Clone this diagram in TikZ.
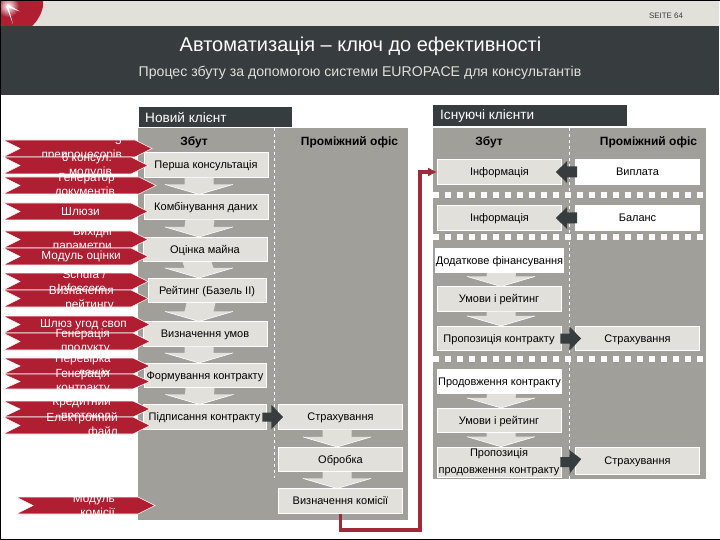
\documentclass[tikz,border=0pt]{standalone}
\usepackage{fontspec}
\setmainfont{Liberation Sans}
\usetikzlibrary{arrows.meta}
\definecolor{bandgrey}{HTML}{E2E0DB}
\definecolor{bandnight}{HTML}{373C3E}
\definecolor{panelgrey}{HTML}{A09F9A}
\definecolor{tagred}{HTML}{B01E32}
\definecolor{linkred}{HTML}{9E2A3A}
\tikzset{
	flowbox/.style={draw=white,line width=.6pt,fill=bandgrey,inner sep=0pt,minimum width=124pt,minimum height=24.5pt,text height=9pt,text depth=1.5pt,align=center,font=\fontsize{11}{15}\selectfont},
	whitebox/.style={flowbox,fill=white},
	colhead/.style={inner sep=0pt,font=\fontsize{12}{14}\selectfont\bfseries},
	tagtext/.style={inner sep=0pt,anchor=east,align=right,text=white,font=\fontsize{11.8}{14}\selectfont},
	bandhead/.style={inner sep=0pt,anchor=west,text=white,font=\fontsize{13.6}{15}\selectfont},
	dotline/.style={white,line width=5.5pt,dash pattern=on 6pt off 6pt},
	darkarrow/.style={fill=bandnight},
}
% red tag: name, left, top, bottom, tip, right edge of text, text
\newcommand{\redtag}[7]{
	\fill [tagred,draw=white,line width=.6pt] (#2,#3) -- (#5-17,#3) -- (#5,{(#3+#4)/2}) -- (#5-17,#4) -- (#2,#4) -- (#2+17,{(#3+#4)/2}) -- cycle;
	\node [tagtext] (#1) at (#6,{(#3+#4)/2}) {#7};
}
% light arrow from box to box: top box, bottom box, sideways shift
\newcommand{\flowdown}[3]{
	\fill [bandgrey] ([xshift=#3-14.5pt]#1.south) -- ([xshift=#3+14.5pt]#1.south) -- ([xshift=#3+14.5pt,yshift=10pt]#2.north) -- ([xshift=#3+34pt,yshift=10pt]#2.north) -- ([xshift=#3]#2.north) -- ([xshift=#3-34pt,yshift=10pt]#2.north) -- ([xshift=#3-14.5pt,yshift=10pt]#2.north) -- cycle;
	\draw [white,line width=.6pt] ([xshift=#3+34pt,yshift=10pt]#2.north) -- ([xshift=#3]#2.north) -- ([xshift=#3-34pt,yshift=10pt]#2.north);
}
\begin{document}
\begin{tikzpicture}[x=1pt,y=-1pt]
	\useasboundingbox (0,0) rectangle (720,540);
	\fill [white] (0,0) rectangle (720,540);
	% top of the page
	\fill [bandgrey] (1,1) rectangle (719,26);
	\begin{scope}
		\clip (1,1) rectangle (43,26);
		\fill [tagred] (5,-2) circle (39);
		\shade [inner color=white,outer color=tagred] (8,6) circle (11);
		\fill [white] (7,4) -- (20,11.5) -- (7,7) -- cycle;
		\fill [white] (6,6) -- (13,24) -- (8,6) -- cycle;
	\end{scope}
	\fill [bandnight] (0,26) rectangle (719,95);
	\node [inner sep=0pt,text=bandnight,font=\fontsize{7.9}{9}\selectfont] (seite) at (666,16) {SEITE 64};
	\node [inner sep=0pt,text=white,font=\fontsize{20}{22}\selectfont] (title) at (360.5,46) {Автоматизація – ключ до ефективності};
	\node [inner sep=0pt,text=bandgrey,font=\fontsize{14.1}{16}\selectfont] (subtitle) at (360,72.5) {Процес збуту за допомогою системи EUROPACE для консультантів};
	% panels
	\fill [bandnight] (139,107) rectangle (292,127);
	\node [bandhead] (newclient) at (145,117.5) {Новий клієнт};
	\fill [bandnight] (433,105) rectangle (627,126);
	\node [bandhead] (oldclient) at (440,115.5) {Існуючі клієнти};
	\fill [panelgrey] (138,128) rectangle (408,520);
	\fill [panelgrey] (433,128) rectangle (706,479);
	\draw [white,line width=.6pt,dashed] (274,128) -- (274,478);
	\draw [white,line width=.6pt,dashed] (569,128) -- (569,479);
	\node [colhead] (sales1) at (194,142) {Збут};
	\node [colhead] (back1) at (349.5,142) {Проміжний офіс};
	\node [colhead] (sales2) at (489,142) {Збут};
	\node [colhead] (back2) at (648.5,142) {Проміжний офіс};
	\draw [dotline] (433,195) -- (706,195);
	\draw [dotline] (433,237) -- (706,237);
	\draw [dotline] (433,359) -- (706,359);
	% boxes of the new client
	\node [flowbox] (first) at (206,165) {Перша консультація};
	\node [flowbox] (merge) at (206,207) {Комбінування даних};
	\node [flowbox] (value) at (205,249.5) {Оцінка майна};
	\node [flowbox,minimum width=118pt] (rating) at (207,290.5) {Рейтинг (Базель II)};
	\node [flowbox] (terms) at (205,334) {Визначення умов};
	\node [flowbox,minimum width=122pt] (draft) at (205,375.5) {Формування контракту};
	\node [flowbox,minimum width=123pt] (sign) at (204.5,417) {Підписання контракту};
	\node [flowbox] (insure1) at (340.5,417) {Страхування};
	\node [flowbox] (process) at (340.5,459.5) {Обробка};
	\node [flowbox] (fee) at (340.5,501) {Визначення комісії};
	% boxes of the existing clients
	\node [flowbox] (info1) at (499.5,172) {Інформація};
	\node [whitebox] (payout) at (637.5,172) {Виплата};
	\node [flowbox] (info2) at (499.5,218) {Інформація};
	\node [whitebox] (balance) at (637.5,218) {Баланс};
	\node [whitebox] (extra) at (499.5,260.5) {Додаткове фінансування};
	\node [flowbox] (rate2) at (499,299) {Умови і рейтинг};
	\node [flowbox] (offer) at (499,338.5) {Пропозиція контракту};
	\node [flowbox] (insure2) at (637.5,338.5) {Страхування};
	\node [whitebox] (extend) at (499.5,381.5) {Продовження контракту};
	\node [flowbox] (rate3) at (499,420.5) {Умови і рейтинг};
	\node [flowbox,minimum height=30pt,text height=,text depth=,font=\fontsize{11}{16.5}\selectfont] (offer2) at (499,462) {Пропозиція\\продовження контракту};
	\node [flowbox,minimum height=27pt] (insure3) at (637.5,460.5) {Страхування};
	% light arrows
	\flowdown{first}{merge}{-7pt}
	\flowdown{merge}{value}{-6pt}
	\flowdown{value}{rating}{-8pt}
	\flowdown{rating}{terms}{-6pt}
	\flowdown{terms}{draft}{-6pt}
	\flowdown{draft}{sign}{-5pt}
	\flowdown{insure1}{process}{-3.5pt}
	\flowdown{process}{fee}{-3.5pt}
	\flowdown{extra}{rate2}{2pt}
	\flowdown{rate2}{offer}{2pt}
	\flowdown{extend}{rate3}{2pt}
	\flowdown{rate3}{offer2}{2pt}
	% dark arrows
	\fill [darkarrow] ([xshift=2pt,yshift=-5.5pt]payout.west) -- ([yshift=-5.5pt,xshift=-8pt]payout.west) -- ([yshift=-11pt,xshift=-8pt]payout.west) -- ([xshift=-6pt]info1.east) -- ([yshift=11pt,xshift=-8pt]payout.west) -- ([yshift=5.5pt,xshift=-8pt]payout.west) -- ([xshift=2pt,yshift=5.5pt]payout.west) -- cycle;
	\fill [darkarrow] ([xshift=2pt,yshift=-5.5pt]balance.west) -- ([yshift=-5.5pt,xshift=-8pt]balance.west) -- ([yshift=-11pt,xshift=-8pt]balance.west) -- ([xshift=-6pt]info2.east) -- ([yshift=11pt,xshift=-8pt]balance.west) -- ([yshift=5.5pt,xshift=-8pt]balance.west) -- ([xshift=2pt,yshift=5.5pt]balance.west) -- cycle;
	\fill [darkarrow] ([xshift=-1pt,yshift=-5pt]offer.east) -- ([xshift=8pt,yshift=-5pt]offer.east) -- ([xshift=8pt,yshift=-12pt]offer.east) -- ([xshift=6pt]insure2.west) -- ([xshift=8pt,yshift=12pt]offer.east) -- ([xshift=8pt,yshift=5pt]offer.east) -- ([xshift=-1pt,yshift=5pt]offer.east) -- cycle;
	\fill [darkarrow] ([xshift=-1pt,yshift=-5pt]offer2.east) -- ([xshift=8pt,yshift=-5pt]offer2.east) -- ([xshift=8pt,yshift=-12pt]offer2.east) -- ([xshift=6pt,yshift=1.5pt]insure3.west) -- ([xshift=8pt,yshift=12pt]offer2.east) -- ([xshift=8pt,yshift=5pt]offer2.east) -- ([xshift=-1pt,yshift=5pt]offer2.east) -- cycle;
	\fill [darkarrow] ([xshift=-4pt,yshift=-4.5pt]sign.east) -- ([xshift=5pt,yshift=-4.5pt]sign.east) -- ([xshift=5pt,yshift=-12pt]sign.east) -- ([xshift=5pt]insure1.west) -- ([xshift=5pt,yshift=12pt]sign.east) -- ([xshift=5pt,yshift=4.5pt]sign.east) -- ([xshift=-4pt,yshift=4.5pt]sign.east) -- cycle;
	% red tags
	\redtag{tagone}{3}{140}{157}{152}{122}{5\\препроцесорів}
	\redtag{tagtwo}{3}{157}{174}{148}{112}{6 консул.\\модулів}
	\redtag{tagthree}{3}{177}{194}{156}{115}{Генератор\\документів}
	\redtag{tagfour}{3}{203}{220}{148}{100}{Шлюзи}
	\redtag{tagfive}{3}{231}{248}{148}{112}{Вихідні\\параметри}
	\redtag{tagsix}{3}{248}{265}{148}{121}{Модуль оцінки}
	\redtag{tagseven}{3}{273}{290}{148}{106}{Schufa /\\Infoscore}
	\redtag{tageight}{3}{290}{307}{148}{114}{Визначення\\рейтингу}
	\redtag{tagnine}{3}{316}{333}{150}{127}{Шлюз угод своп}
	\redtag{tagten}{3}{333}{350}{150}{110}{Генерація\\продукту}
	\redtag{tageleven}{3}{358}{374}{150}{111}{Перевірка\\даних}
	\redtag{tagtwelve}{3}{374}{389}{150}{110}{Генерація\\контракту}
	\redtag{tagthirteen}{3}{401}{417}{150}{111}{Кредитний\\протокол}
	\redtag{tagfourteen}{3}{417}{434}{150}{118}{Електронний\\файл}
	\redtag{tagfifteen}{16}{497}{514}{155}{115}{Модуль\\комісії}
	% red link
	\coordinate (bend) at (420,530);
	\draw [linkred,line width=3.2pt,-{Latex[length=9pt,width=9pt]}] (fee.south) |- (bend) |- (info1.west);
	% frame
	\draw [black,line width=1pt] (.5,540) -- (.5,.5) -- (720,.5);
	\draw [black,line width=1pt] (0,539) -- (720,539);
\end{tikzpicture}
\end{document}
